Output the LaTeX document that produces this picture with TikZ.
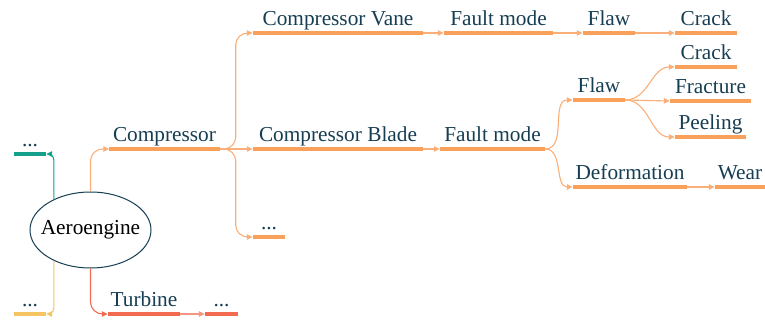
\documentclass[tikz,border=0pt]{standalone}
\usepackage{fontspec}
\newfontfamily\labelfont{Liberation Serif}
\usetikzlibrary{arrows.meta,shapes.geometric}

\definecolor{ink}{RGB}{22,62,82}
\definecolor{orangeA}{RGB}{249,160,90}
\definecolor{orangeB}{RGB}{250,175,120}
\definecolor{tealA}{RGB}{20,160,138}
\definecolor{yellowA}{RGB}{245,196,99}
\definecolor{redA}{RGB}{242,106,79}
\definecolor{redB}{RGB}{246,150,128}

\tikzset{
  % a label sitting on a thick underline
  item/.style={rectangle, inner xsep=0pt, inner ysep=0pt, text height=14pt,
    text depth=7pt, font=\labelfont\fontsize{21.3}{23}\selectfont, text=ink, anchor=south,
    append after command={(\tikzlastnode.south west) edge[line width=3.2pt, #1]
      (\tikzlastnode.south east)}},
  item/.default=orangeA,
  conn/.style={line width=1.1pt, draw=#1, -{Triangle[length=6pt,width=5.5pt]}},
  conn/.default=orangeB,
}

\begin{document}
\begin{tikzpicture}[x=1pt,y=-1pt]
\useasboundingbox (0,0) rectangle (765,323);

% root
\node[ellipse, draw=ink, line width=1pt, minimum width=121pt, minimum height=76pt,
  inner sep=0pt, font=\labelfont\fontsize{21.3}{23}\selectfont] (ae) at (90.5,230)
  {\makebox[0pt]{Aeroengine}};

% first level
\node[item=tealA, minimum width=32pt] (d1) at (30,154) {...};
\node[item=yellowA, minimum width=32pt] (d2) at (30,314) {...};
\node[item, minimum width=110pt] (comp) at (164.5,149) {Compressor};
\node[item=redA, minimum width=72pt] (turb) at (144,314) {Turbine};
\node[item=redA, minimum width=33pt] (d3) at (221.5,314) {...};

% compressor parts
\node[item, minimum width=170pt] (vane) at (338,33) {Compressor Vane};
\node[item, minimum width=170pt] (blade) at (338,149) {Compressor Blade};
\node[item, minimum width=32pt] (d4) at (269,237) {...};

% vane branch
\node[item, minimum width=109pt] (fm1) at (498.5,33) {Fault mode};
\node[item, minimum width=52pt] (flaw1) at (609,33) {Flaw};
\node[item, minimum width=62pt] (crack1) at (706,33) {Crack};

% blade branch
\node[item, minimum width=105pt] (fm2) at (492.5,149) {Fault mode};
\node[item, minimum width=52pt] (flaw2) at (599,100) {Flaw};
\node[item, minimum width=114pt] (deform) at (630,187) {Deformation};
\node[item, minimum width=50pt] (wear) at (740,187) {Wear};
\node[item, minimum width=62pt] (crack2) at (706,67) {Crack};
\node[item, minimum width=81pt] (fract) at (710.5,101) {Fracture};
\node[item, minimum width=71pt] (peel) at (710.5,137) {Peeling};

% connectors from the root
\draw[conn=tealA, rounded corners=6pt] (ae.140) |- (d1.south east);
\draw[conn=yellowA, rounded corners=6pt] (ae.220) |- (d2.south east);
\draw[conn, rounded corners=12pt] (ae.north) |- (comp.south west);
\draw[conn=redA, rounded corners=12pt] (ae.south) |- (turb.south west);
\draw[conn=redB] (turb.south east) -- (d3.south west);

% compressor fork
\coordinate (cf) at ([xshift=16pt]comp.south east);
\draw[conn, rounded corners=12pt] (comp.south east) -- (cf) |- (vane.south west);
\draw[conn, rounded corners=12pt] (comp.south east) -- (cf) |- (d4.south west);
\draw[conn] (comp.south east) -- (blade.south west);

% vane chain
\draw[conn] (vane.south east) -- (fm1.south west);
\draw[conn] (fm1.south east) -- (flaw1.south west);
\draw[conn] (flaw1.south east) -- (crack1.south west);

% blade chain
\draw[conn] (blade.south east) -- (fm2.south west);
\draw[conn] (fm2.south east) to[out=0,in=180] (flaw2.south west);
\draw[conn] (fm2.south east) to[out=0,in=180] (deform.south west);
\draw[conn] (deform.south east) -- (wear.south west);
\draw[conn] (flaw2.south east) to[out=0,in=180] (crack2.south west);
\draw[conn] (flaw2.south east) -- (fract.south west);
\draw[conn] (flaw2.south east) to[out=0,in=180] (peel.south west);
\end{tikzpicture}
\end{document}
